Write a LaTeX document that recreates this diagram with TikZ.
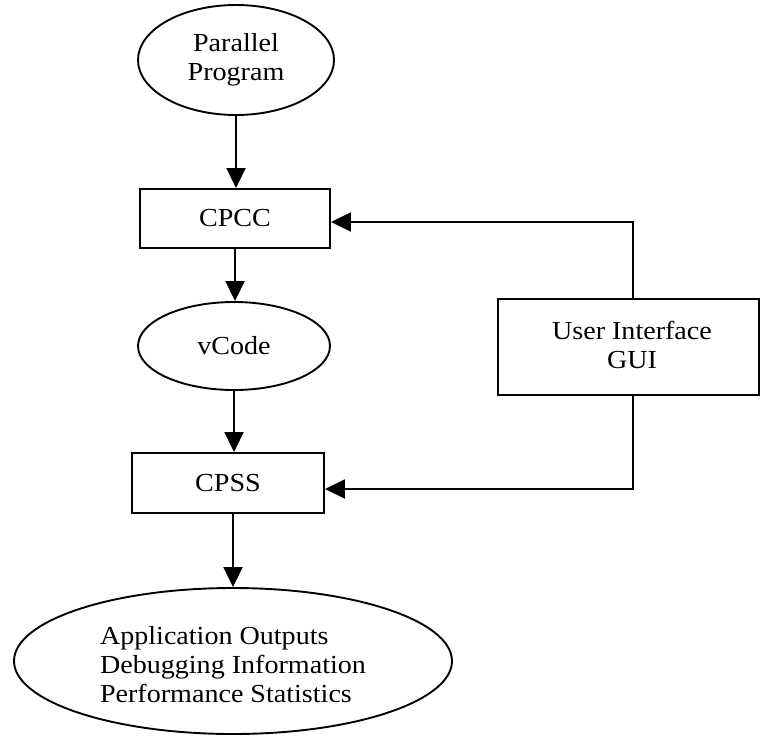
\documentclass[tikz,border=0pt]{standalone}
\usepackage{fontspec}
\setmainfont[FakeStretch=1.08]{Liberation Serif}
\usetikzlibrary{shapes.geometric,arrows.meta}

\begin{document}
\begin{tikzpicture}[x=1pt,y=-1pt,
  every node/.style={font=\fontsize{26}{29}\selectfont, line width=1.9pt, inner sep=0pt},
  oval/.style={draw, ellipse},
  box/.style={draw, rectangle},
  link/.style={line width=1.9pt, -{Triangle[length=20pt,width=19pt]}}]
\useasboundingbox (0,0) rectangle (760,742);

% main flow
\node[oval, minimum width=196pt, minimum height=110pt, align=center] (pp) at (236,60) {Parallel\\Program};
\node[box, minimum width=190pt, minimum height=59pt] (cpcc) at (235,218.5) {CPCC};
\node[oval, minimum width=192pt, minimum height=88pt] (vcode) at (234,346) {vCode};
\node[box, minimum width=192pt, minimum height=60pt] (cpss) at (228,483) {CPSS};
\node[oval, minimum width=438pt, minimum height=146pt] (out) at (233,661) {};
\node[align=left] (outtext) at (233,665)
  {Application Outputs\\Debugging Information\\Performance Statistics};

% user interface
\node[box, minimum width=261pt, minimum height=96pt] (gui) at (628.5,347) {};
\node[align=center] (guitext) at (632,345) {User Interface\\GUI};

% connectors
\coordinate (guitop) at ([xshift=4.5pt]gui.north);
\coordinate (guibot) at ([xshift=4.5pt]gui.south);
\draw[link] (pp.south) -- (pp.south |- cpcc.north);
\draw[link] (cpcc.south) -- (cpcc.south |- vcode.north);
\draw[link] (vcode.south) -- (vcode.south |- cpss.north);
\draw[link] (cpss.south -| out.north) -- (out.north);
\draw[link] (guitop) |- ([yshift=-3.5pt]cpcc.east);
\draw[link] (guibot) |- ([yshift=-6pt]cpss.east);
\end{tikzpicture}
\end{document}
